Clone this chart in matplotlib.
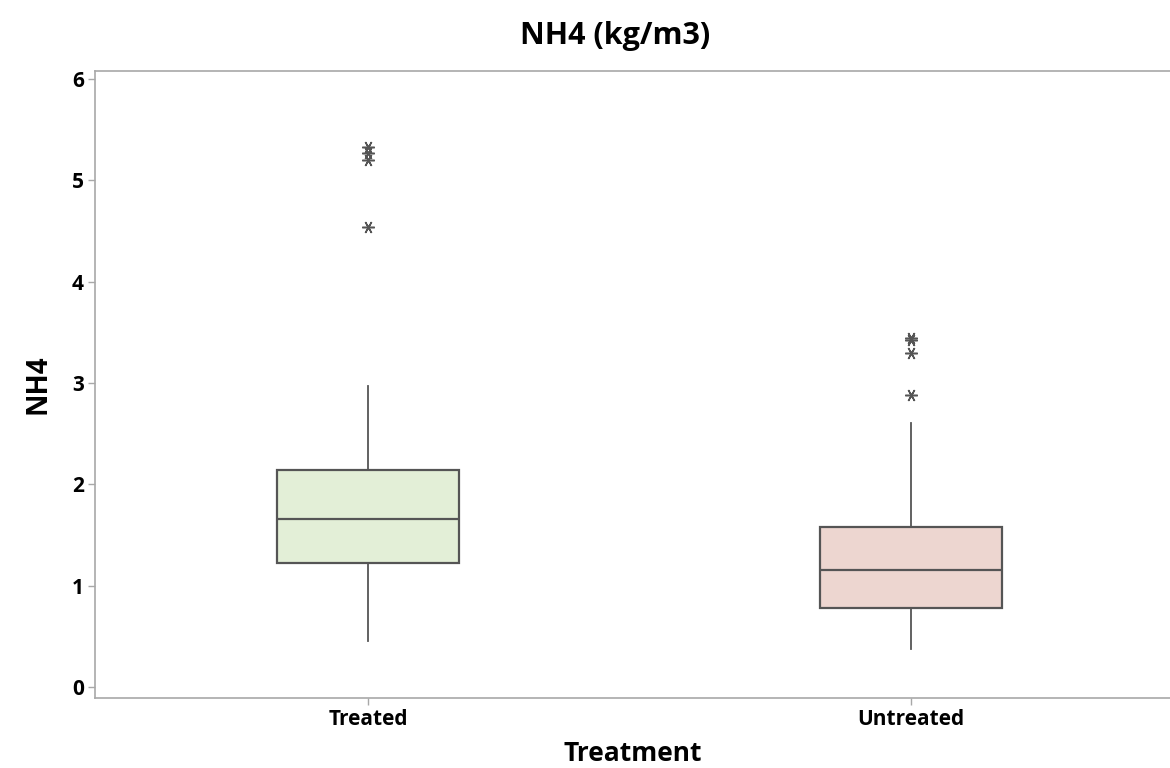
import matplotlib
matplotlib.use("Agg")
import matplotlib.pyplot as plt

# Summary statistics per treatment group (NH4, kg/m3)
categories = ["Treated", "Untreated"]
q1 = [1.22, 0.78]
medians = [1.66, 1.155]
q3 = [2.14, 1.575]
whisker_low = [0.45, 0.37]
whisker_high = [2.97, 2.60]
outliers_treated = [5.33, 5.27, 5.20, 4.54]
outliers_untreated = [3.44, 3.42, 3.30, 2.88]
y_ticks = [0, 1, 2, 3, 4, 5, 6]

box_colors = ["#E3EFD7", "#EDD6D0"]
edge = "#555555"
spine_col = "#A8A8A8"

plt.rcParams["font.family"] = ["Open Sans", "DejaVu Sans"]

fig = plt.figure(figsize=(11.70, 7.68), dpi=100)
ax = fig.add_axes([95 / 1170, 1 - 698 / 768, 1 - 95 / 1170, (698 - 71) / 768])

stats = []
for i, name in enumerate(categories):
    stats.append(dict(
        label=name, q1=q1[i], med=medians[i], q3=q3[i],
        whislo=whisker_low[i], whishi=whisker_high[i],
        fliers=[outliers_treated, outliers_untreated][i],
    ))

bp = ax.bxp(
    stats, positions=[1, 2], widths=0.335, patch_artist=True,
    showcaps=False,
    boxprops=dict(edgecolor=edge, linewidth=1.6),
    medianprops=dict(color=edge, linewidth=1.6),
    whiskerprops=dict(color=edge, linewidth=1.3),
    flierprops=dict(marker=(6, 2, 90), markersize=9, markeredgecolor=edge,
                    markerfacecolor=edge, markeredgewidth=1.1, linestyle="none"),
)
for patch, c in zip(bp["boxes"], box_colors):
    patch.set_facecolor(c)

ax.set_xlim(0.497, 2.477)
ax.set_ylim(-0.11, 6.08)
ax.set_yticks(y_ticks)
ax.set_xticks([1, 2])
ax.set_xticklabels(categories)

for s in ["left", "top", "bottom"]:
    ax.spines[s].set_color(spine_col)
    ax.spines[s].set_linewidth(1.2)
ax.spines["right"].set_visible(False)

ax.tick_params(axis="both", direction="out", length=5, width=1, color=spine_col,
               labelsize=15, pad=3)
for lbl in ax.get_xticklabels() + ax.get_yticklabels():
    lbl.set_fontweight("bold")

ax.set_xlabel("Treatment", fontsize=19, fontweight="bold", labelpad=7)
ax.set_ylabel("NH4", fontsize=20, fontweight="bold", labelpad=14)
fig.text(0.526, 1 - 36 / 768, "NH4 (kg/m3)", fontsize=22, fontweight="bold",
         ha="center", va="center")

fig.savefig("out.png", dpi=100)
